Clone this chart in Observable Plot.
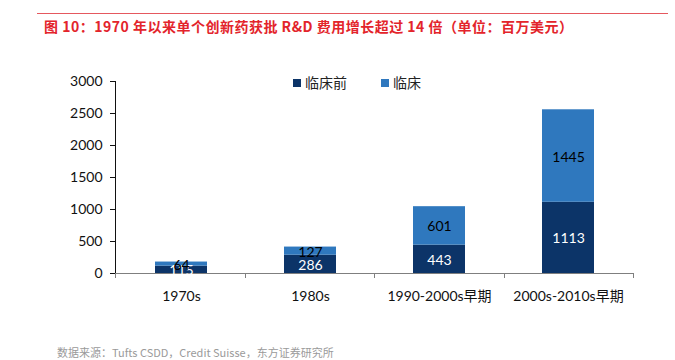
<!DOCTYPE html>
<html><head><meta charset="utf-8">
<script src="https://cdn.jsdelivr.net/npm/d3@7"></script>
<script src="https://cdn.jsdelivr.net/npm/@observablehq/plot@0.6"></script>
<style>
body{margin:0;width:675px;height:360px;position:relative;background:#fff;overflow:hidden;font-family:"Noto Sans CJK SC",sans-serif}
#rule{position:absolute;left:37px;top:13px;width:631px;height:0;border-top:1.5px solid #e5585e}
#title{position:absolute;left:44px;top:16px;font-size:14px;font-weight:bold;color:#e3242b;white-space:nowrap;letter-spacing:0.5px}
#caption{position:absolute;left:57px;top:344px;font-size:11px;color:#9a9a9a;white-space:nowrap}
#legend{position:absolute;left:293px;top:72px;font-size:14px;color:#222;white-space:nowrap}
#legend span.sw{display:inline-block;width:8px;height:8px;margin-right:4px;vertical-align:1px}
#chart{position:absolute;left:0;top:0}
</style></head><body>
<div id="rule"></div>
<div id="title">图 10：1970 年以来单个创新药获批 R&amp;D 费用增长超过 14 倍（单位：百万美元）</div>
<div id="chart"></div>
<div id="legend"></div>
<div id="caption">数据来源：Tufts CSDD，Credit Suisse，东方证券研究所</div>
<script>
const eras = ["1970s", "1980s", "1990-2000s早期", "2000s-2010s早期"];
const stages = ["临床前", "临床"];
const preclinical = [115, 286, 443, 1113];
const clinical = [64, 127, 601, 1445];
const colors = ["#0c3468", "#2f78be"];
const yTicks = [0, 500, 1000, 1500, 2000, 2500, 3000];

const data = [];
eras.forEach((e, i) => {
  data.push({era: e, stage: stages[0], value: preclinical[i]});
  data.push({era: e, stage: stages[1], value: clinical[i]});
});

function boundaryTicks(index, scales, values, dims) {
  const step = (dims.width - dims.marginLeft - dims.marginRight) / eras.length;
  const y0 = dims.height - dims.marginBottom;
  const g = d3.create("svg:g").attr("stroke", "#7f7f7f").attr("stroke-width", 1);
  for (let k = 0; k <= eras.length; k++) {
    const x = Math.round(dims.marginLeft + k * step) + 0.5;
    g.append("line").attr("x1", x).attr("x2", x).attr("y1", y0).attr("y2", y0 + 5);
  }
  return g.node();
}

const plot = Plot.plot({
  width: 675, height: 360,
  marginLeft: 115, marginRight: 42, marginTop: 81, marginBottom: 87,
  style: {fontFamily: "Lato, 'Noto Sans CJK SC', sans-serif", fontSize: "14px", color: "#111", background: "transparent"},
  x: {domain: eras, paddingInner: 0.6, paddingOuter: 0.3, label: null, tickSize: 0, tickPadding: 18},
  y: {domain: [0, 3000], ticks: yTicks, tickFormat: "d", label: null, tickSize: 5, tickPadding: 8, line: true},
  color: {domain: stages, range: colors},
  marks: [
    Plot.barY(data, Plot.stackY({x: "era", y: "value", fill: "stage", order: stages})),
    Plot.ruleY([0], {stroke: "#7f7f7f"}),
    boundaryTicks,
    Plot.text(data, Plot.stackY({x: "era", y: "value", z: "stage", order: stages, text: d => String(d.value),
      fill: d => d.stage === stages[0] ? "#ffffff" : "#000000", fontSize: 14, dy: 1}))
  ]
});
document.getElementById("chart").appendChild(plot);
const svg = d3.select(plot);
svg.selectAll("[aria-label='y-axis'] path, [aria-label='y-axis'] line").attr("stroke", "#7f7f7f");

const legend = document.getElementById("legend");
stages.forEach((s, i) => {
  const item = document.createElement("span");
  item.style.marginRight = i === 0 ? "34px" : "0";
  item.innerHTML = `<span class="sw" style="background:${colors[i]}"></span>${s}`;
  legend.appendChild(item);
});
</script>
</body></html>
